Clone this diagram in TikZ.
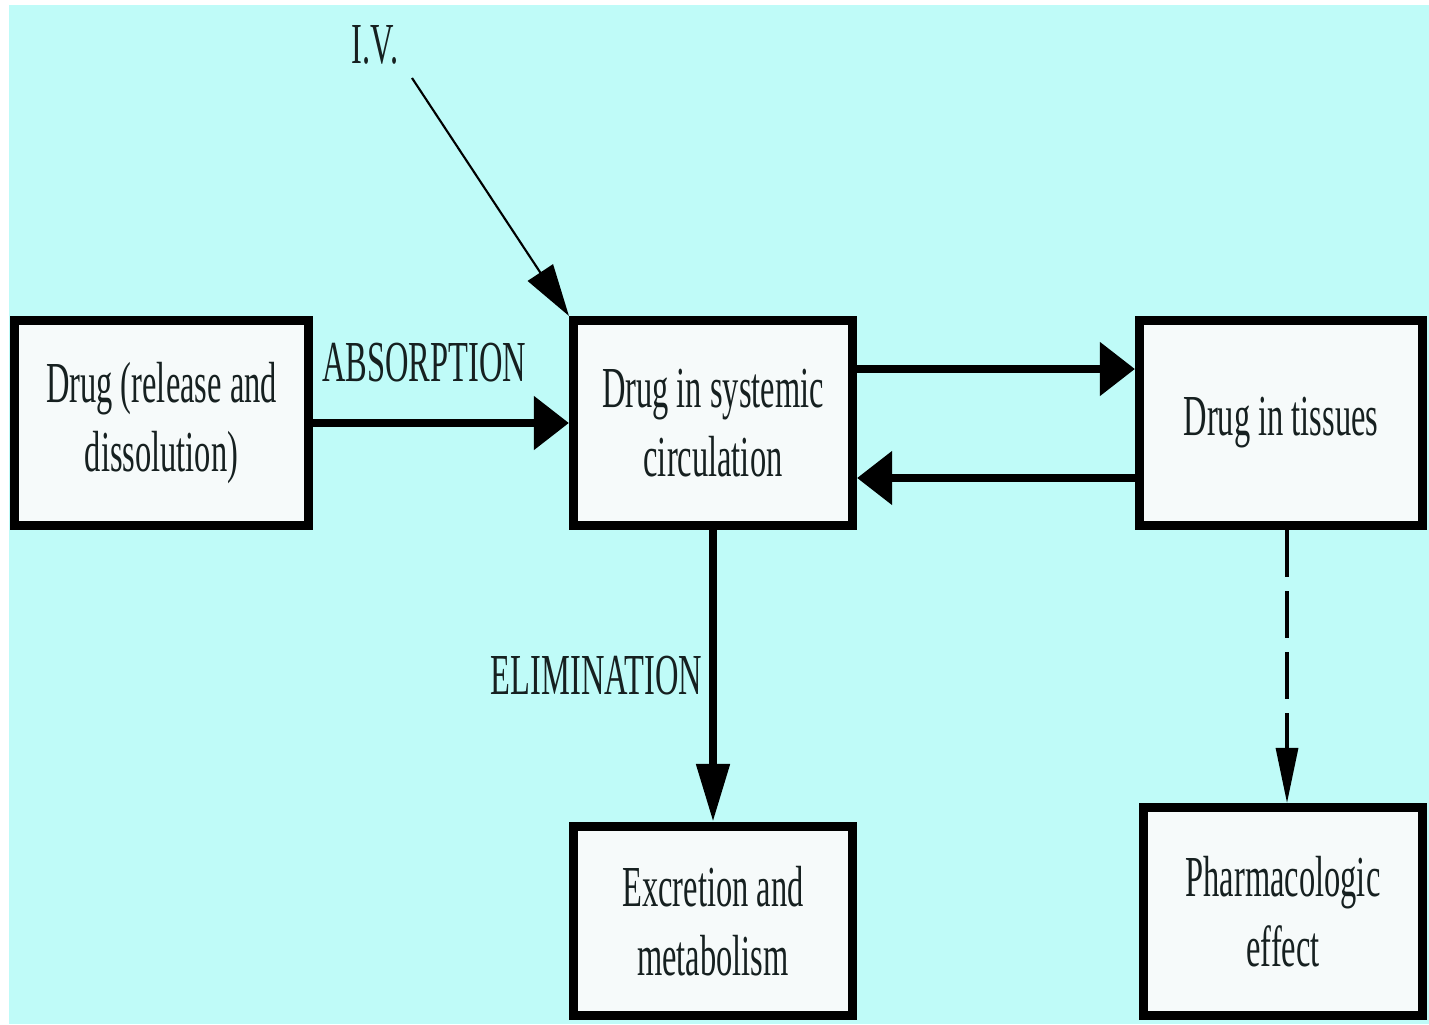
\documentclass[tikz,border=0pt]{standalone}
\usepackage{fontspec}
\setmainfont[FakeStretch=0.56]{Liberation Serif}
\usetikzlibrary{arrows.meta,positioning}
\definecolor{bgcyan}{RGB}{191,251,248}
\definecolor{boxfill}{RGB}{246,250,250}
\definecolor{inkdark}{RGB}{22,32,32}

\tikzset{
  pkbox/.style={draw=black,fill=boxfill,line width=2.6pt,align=center,inner sep=0pt,text=inkdark},
  flow/.style={line width=2.3pt,-{Triangle[length=0.35cm,width=0.52cm]}},
  lbl/.style={text=inkdark,inner sep=1pt}
}

\begin{document}
\begin{tikzpicture}[font=\fontsize{16.5}{19.8}\selectfont]
% Frame and background
\useasboundingbox (0,0) rectangle (14.29,10.24);
\fill[white] (0,0) rectangle (14.29,10.24);
\fill[bgcyan] (0.09,0) rectangle (14.29,10.19);

% Compartments
\node[pkbox,minimum width=2.94cm,minimum height=2.05cm] (release) at (1.615,6.01) {Drug (release and\\dissolution)};
\node[pkbox,minimum width=2.79cm,minimum height=2.05cm] (plasma) at (7.13,6.01) {Drug in systemic\\circulation};
\node[pkbox,minimum width=2.83cm,minimum height=2.05cm] (tissue) at (12.81,6.01) {Drug in tissues};
\node[pkbox,minimum width=2.79cm,minimum height=1.89cm] (excrete) at (7.13,1.03) {Excretion and\\metabolism};
\node[pkbox,minimum width=2.79cm,minimum height=2.08cm] (effect) at (12.83,1.125) {Pharmacologic\\effect};

% Labels
\node[lbl] (iv) at (3.75,9.79) {I.V.};
\node[lbl] (absorb) at (4.24,6.61) {ABSORPTION};
\coordinate (ivtail) at (4.12,9.46);

% Transfers
\draw[flow] (release.east) -- (plasma.west);
\draw[flow] ([yshift=0.54cm]plasma.east) -- ([yshift=0.54cm]tissue.west);
\draw[flow] ([yshift=-0.55cm]tissue.west) -- ([yshift=-0.55cm]plasma.east);
\draw[flow,-{Triangle[length=0.58cm,width=0.32cm]}] (plasma.south) -- node[lbl,left=1pt] (elim) {ELIMINATION} (excrete.north);

% I.V. dose
\draw[line width=0.6pt,-{Triangle[length=0.52cm,width=0.3cm]}] (ivtail) -- (plasma.north west);

% Effect (dashed)
\draw[line width=0.9pt,dash pattern=on 0.47cm off 0.14cm,-{Triangle[length=0.55cm,width=0.22cm]}] ([xshift=0.06cm]tissue.south) -- ([xshift=0.06cm]tissue.south |- effect.north);

\end{tikzpicture}
\end{document}
